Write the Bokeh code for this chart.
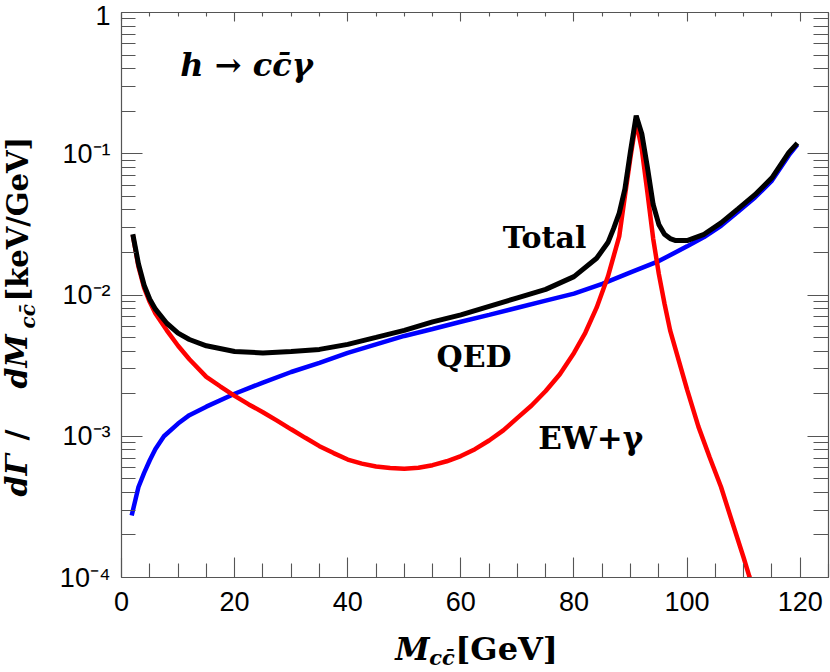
from math import pi
from bokeh.plotting import figure
from bokeh.layouts import row, column
from bokeh.models import (FixedTicker, LinearAxis, LogAxis, Label, Range1d,
                          CustomJSTickFormatter)
from bokeh.embed import file_html
from bokeh.resources import INLINE

# ---------------- data ----------------
x_total = [2, 3, 4, 5, 6, 8, 10, 12, 15, 20, 25, 30, 35, 40, 45, 50, 55, 60, 65,
           70, 75, 80, 84, 86, 87, 88, 89, 90, 91, 92, 93, 94, 95, 96, 97, 98, 100,
           103, 106, 109, 112, 115, 118, 119.5]
y_total = [0.0269, 0.0166, 0.01175, 0.00933, 0.00794, 0.00631, 0.00537, 0.00484,
           0.00437, 0.00398, 0.00389, 0.00398, 0.00412, 0.00447, 0.00501, 0.00562,
           0.00646, 0.00724, 0.00832, 0.00955, 0.01096, 0.01349, 0.0182, 0.0235,
           0.0295, 0.038, 0.0562, 0.1047, 0.186, 0.138, 0.0794, 0.0437, 0.0316,
           0.0269, 0.0251, 0.0243, 0.0243, 0.0269, 0.0324, 0.0407, 0.0513, 0.0676,
           0.1023, 0.119]

x_qed = [1.8, 3, 4, 5, 6, 7.5, 10, 12, 15, 20, 25, 30, 35, 40, 45, 50, 55, 60, 65,
         70, 75, 80, 85, 90, 95, 100, 103, 106, 109, 112, 115, 118, 119.5]
y_qed = [0.000275, 0.000437, 0.000550, 0.000676, 0.000813, 0.00100, 0.00123,
         0.00141, 0.00162, 0.00200, 0.00240, 0.00285, 0.00331, 0.00389, 0.00447,
         0.00513, 0.00575, 0.00646, 0.00724, 0.00813, 0.00912, 0.01023, 0.0120,
         0.01445, 0.01738, 0.0221, 0.0257, 0.0309, 0.0389, 0.0490, 0.0646, 0.0977,
         0.116]

x_ew = [2, 3, 4, 5, 6, 8, 10, 12, 15, 17.5, 20, 22.5, 25, 27.5, 30, 32.5, 35,
        37.5, 40, 42.5, 45, 47.5, 50, 52.5, 55, 57.5, 60, 62.5, 65, 67.5, 70,
        72.5, 75, 77.5, 80, 82, 84, 86, 88, 89, 90, 91, 92, 93, 94, 95, 96, 97,
        98, 100, 102, 104, 106, 108, 110, 111, 112]
y_ew = [0.0266, 0.01585, 0.01122, 0.00891, 0.00741, 0.00562, 0.00437, 0.00351,
        0.00263, 0.00225, 0.00193, 0.00168, 0.00148, 0.00129, 0.00112, 0.000975,
        0.000851, 0.000760, 0.000684, 0.000640, 0.000610, 0.000595, 0.000589,
        0.000598, 0.000624, 0.000665, 0.000724, 0.000810, 0.000933, 0.00110,
        0.00135, 0.00165, 0.00209, 0.00275, 0.00389, 0.00540, 0.00813, 0.0135,
        0.026, 0.0501, 0.0955, 0.170, 0.107, 0.0525, 0.0251, 0.0141, 0.00871,
        0.00562, 0.00407, 0.00214, 0.00117, 0.000708, 0.000437, 0.000245, 0.000138,
        0.000102, 0.0000759]

x_ticks = [0, 20, 40, 60, 80, 100, 120]
x_minor = [v for v in range(0, 126, 5) if v % 20 != 0]
y_ticks = [1e-4, 1e-3, 1e-2, 1e-1, 1]
y_minor = [m * d for d in [1e-4, 1e-3, 1e-2, 1e-1] for m in range(2, 10)]

SERIF = "DejaVu Serif"
YLAB_W = 40
XLAB_H = 44
TOTAL_H = 671
MAIN_W = 790
BASE_SHIFT = 0.32   # bokeh draws "alphabetic" text ~0.32 em below its anchor

# ---------------- main figure ----------------
xr = Range1d(0, 125)
p = figure(frame_width=707, frame_height=565, y_axis_type="log",
           x_range=xr, y_range=Range1d(1e-4, 1),
           output_backend="svg", toolbar_location=None,
           min_border_left=81, min_border_right=2, min_border_top=12,
           min_border_bottom=TOTAL_H - XLAB_H - 12 - 565)
p.grid.visible = False
p.outline_line_color = None
p.background_fill_color = "white"
p.border_fill_color = "white"

AX = "#555555"
xt = FixedTicker(ticks=x_ticks, minor_ticks=x_minor)
yt = FixedTicker(ticks=y_ticks, minor_ticks=y_minor)

yfmt = CustomJSTickFormatter(code="""
const e = Math.round(Math.log10(tick));
if (e === 0) { return "1"; }
const sup = {"-": "\u207b", "0": "\u2070", "1": "\u00b9", "2": "\u00b2", "3": "\u00b3", "4": "\u2074"};
return "10" + String(e).split("").map(c => sup[c]).join("");
""")
blank = CustomJSTickFormatter(code="return '';")


def style(ax, ticker, tin, min_in):
    ax.ticker = ticker
    ax.axis_line_color = AX
    ax.axis_line_width = 1.2
    ax.major_tick_line_color = AX
    ax.minor_tick_line_color = AX
    ax.major_tick_line_width = 1.1
    ax.minor_tick_line_width = 1.1
    ax.major_tick_in = tin
    ax.major_tick_out = 0
    ax.minor_tick_in = min_in
    ax.minor_tick_out = 0
    ax.major_label_text_font = "Liberation Sans"
    ax.major_label_text_font_size = "27px"
    ax.major_label_text_color = "black"


xa = p.xaxis[0]
ya = p.yaxis[0]
style(xa, xt, 20, 14)
xa.major_label_standoff = 14
style(ya, yt, 21, 14)
ya.formatter = yfmt
ya.major_label_standoff = 11

top = LinearAxis(formatter=blank, major_label_standoff=0)
style(top, xt, 9, 4)
p.add_layout(top, "above")
right = LogAxis(formatter=blank, major_label_standoff=0)
style(right, yt, 21, 15)
p.add_layout(right, "right")

# curves
p.line(x_qed, y_qed, line_color="#0000ff", line_width=4.5)
p.line(x_ew, y_ew, line_color="#ff0000", line_width=4.5)
p.line(x_total, y_total, line_color="black", line_width=5)


def lab(fig, x, y, text, size, style_, rotated=False, **kw):
    shift = round(BASE_SHIFT * size)
    if rotated:
        kw.update(angle=pi / 2, x_offset=-shift)
    else:
        kw.update(y_offset=shift)
    fig.add_layout(Label(x=x, y=y, text=text, text_font=SERIF,
                         text_font_style=style_, text_font_size=f"{size}px",
                         text_color="black", text_baseline="alphabetic", **kw))


lab(p, 10.4, 0.36, "h \u2192 cc\u0304\u03b3", 32, "bold italic")
lab(p, 67.4, 0.0218, "Total", 30, "bold")
lab(p, 55.7, 0.00314, "QED", 30, "bold")
lab(p, 73.7, 0.00082, "EW+\u03b3", 31, "bold")


def strip_fig(w, h, x_range):
    f = figure(width=w, height=h, x_range=x_range, y_range=Range1d(0, h),
               output_backend="svg", toolbar_location=None,
               x_axis_location=None, y_axis_location=None, min_border=0)
    f.grid.visible = False
    f.outline_line_color = None
    f.border_fill_color = "white"
    f.background_fill_color = "white"
    return f


# ---------------- x-axis title: M_{c cbar}[GeV] (frame aligned with p) ----------------
xl = strip_fig(MAIN_W, XLAB_H, xr)
xbase = 13
lab(xl, 48.4, xbase, "M", 31, "bold italic")
lab(xl, 54.4, xbase - 6, "cc\u0304", 21, "bold italic")
lab(xl, 59.0, xbase, "[GeV]", 32, "bold")

# ---------------- y-axis title: dGamma/dM_{c cbar}[keV/GeV] ----------------
yl = strip_fig(YLAB_W, TOTAL_H, Range1d(0, YLAB_W))
ybase = 26
for txt, start, size, st, dx in [("d\u0393", 496, 30, "bold italic", 0),
                                 ("/", 440, 30, "bold", 0),
                                 ("dM", 388, 30, "bold italic", 0),
                                 ("cc\u0304", 328, 20, "bold italic", 7),
                                 ("[keV/GeV]", 301, 29, "bold", 0)]:
    lab(yl, ybase + dx, TOTAL_H - start, txt, size, st, rotated=True)

layout = row(yl, column(p, xl, spacing=0), spacing=0)
open("out.html", "w").write(file_html(layout, INLINE))
